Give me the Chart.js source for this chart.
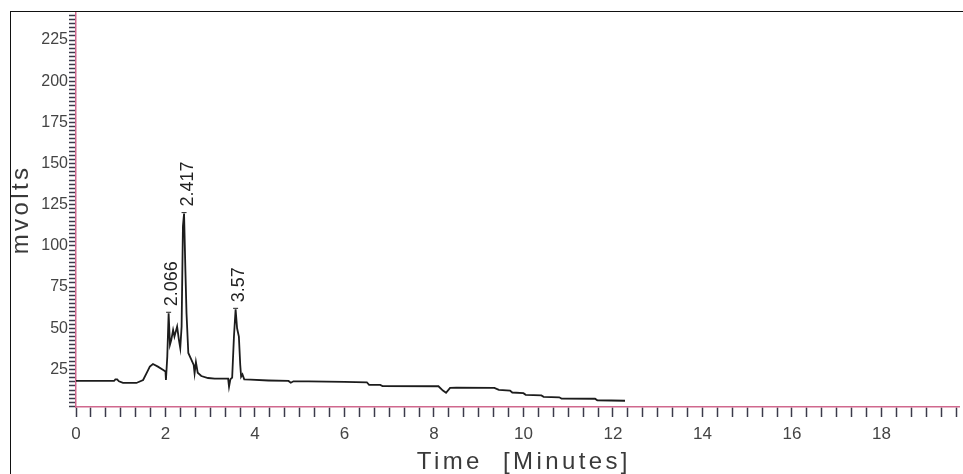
<!DOCTYPE html>
<html><head><meta charset="utf-8">
<script src="https://cdn.jsdelivr.net/npm/chart.js@4.4.1/dist/chart.umd.min.js"></script>
<style>
html,body{margin:0;padding:0;background:#fff;}
#wrap{position:relative;width:963px;height:474px;overflow:hidden;}
#frame{position:absolute;left:10px;top:11px;width:960px;height:470px;border-left:1.5px solid #111;border-top:1.5px solid #111;pointer-events:none;}
canvas{position:absolute;left:0;top:0;}
</style></head><body>
<div id="wrap"><canvas id="c" width="963" height="474"></canvas><div id="frame"></div></div>
<script>
// Chromatogram trace: retention time (minutes) and detector signal (mV)
const times = [0, 0.85, 0.88, 0.92, 0.96, 1.05, 1.35, 1.5, 1.6, 1.65, 1.72, 1.83, 1.95, 2.0, 2.01, 2.04, 2.07,
  2.10, 2.13, 2.17, 2.20, 2.26, 2.30, 2.33, 2.36, 2.39, 2.415, 2.445, 2.47, 2.51, 2.58, 2.63, 2.65, 2.68, 2.72,
  2.8, 2.95, 3.1, 3.3, 3.40, 3.42, 3.45, 3.49, 3.53, 3.567, 3.60, 3.64, 3.67, 3.69, 3.72, 3.76, 3.9, 4.3, 4.75,
  4.8, 4.86, 5.2, 6.0, 6.5, 6.55, 6.8, 6.85, 8.1, 8.2, 8.27, 8.36, 8.5, 9.35, 9.45, 9.7, 9.75, 10.0, 10.05,
  10.4, 10.45, 10.8, 10.85, 11.6, 11.65, 12.27];
const mvolts = [18, 18, 19, 19, 17.8, 16.8, 16.8, 18.6, 24, 26.7, 28.3, 26.7, 24.7, 23.7, 18.6, 32.8, 59.1,
  40, 43, 49, 45, 51, 43, 38, 51, 112, 119.6, 85, 59, 35, 30.8, 27.7, 22.7, 29.5, 23,
  21, 19.8, 19.4, 19.4, 19.4, 14.5, 19, 20, 45, 61.5, 50, 45, 28, 20.6, 22, 19, 18.8, 18.3, 18,
  16.9, 17.8, 17.8, 17.5, 17.2, 15.6, 15.6, 14.9, 14.8, 12.2, 10.8, 13.8, 14, 13.8, 12.6, 12.2, 11, 10.6, 9.6,
  9.2, 8.4, 8.1, 7.3, 7.2, 6.3, 6.0];
// Peak annotations
const peakTimes = [2.07, 2.415, 3.567];
const peakLabels = ['2.066', '2.417', '3.57'];
// Axis tick labels
const xLabelValues = [0, 2, 4, 6, 8, 10, 12, 14, 16, 18];
const yLabelValues = [25, 50, 75, 100, 125, 150, 175, 200, 225];
const xMinorStep = 1 / 3;
const yMinorStep = 2.5;
const xTitle = 'Time  [Minutes]';
const yTitle = 'mvolts';

const points = times.map((t, i) => ({ x: t, y: mvolts[i] }));

const annot = {
  id: 'annot',
  afterDraw(chart) {
    const ctx = chart.ctx, xs = chart.scales.x, ys = chart.scales.y, ca = chart.chartArea;
    ctx.save();
    ctx.fillStyle = '#3a3a3a';
    ctx.font = '24px "Liberation Sans", Arial, sans-serif';
    ctx.letterSpacing = '3.4px';
    ctx.textAlign = 'center';
    ctx.textBaseline = 'alphabetic';
    ctx.fillText(xTitle, (ca.left + ca.right) / 2 + 6, 469);
    ctx.save();
    ctx.translate(28, (ca.top + ca.bottom) / 2);
    ctx.rotate(-Math.PI / 2);
    ctx.fillText(yTitle, 0, 0);
    ctx.restore();

    ctx.letterSpacing = '0px';
    ctx.font = '18px "Liberation Sans", Arial, sans-serif';
    ctx.fillStyle = '#222';
    ctx.strokeStyle = '#222';
    ctx.lineWidth = 1;
    peakTimes.forEach((pt, i) => {
      let best = 0;
      times.forEach((t, j) => { if (Math.abs(t - pt) < Math.abs(times[best] - pt)) best = j; });
      const px = xs.getPixelForValue(times[best]);
      const py = ys.getPixelForValue(mvolts[best]);
      ctx.beginPath();
      ctx.moveTo(px - 2.5, py - 1); ctx.lineTo(px + 2.5, py - 1);
      ctx.stroke();
      ctx.save();
      ctx.translate(px + 3.5, py - 7);
      ctx.rotate(-Math.PI / 2);
      ctx.textAlign = 'left';
      ctx.textBaseline = 'middle';
      ctx.fillText(peakLabels[i], 0, 0);
      ctx.restore();
    });
    ctx.restore();
  }
};

const axisPink = '#d0688e';
const tickCol = '#3a3a4a';

new Chart(document.getElementById('c'), {
  type: 'line',
  data: { datasets: [{ data: points, borderColor: '#1c1c1c', borderWidth: 1.8, pointRadius: 0, tension: 0, fill: false }] },
  options: {
    responsive: false,
    animation: false,
    devicePixelRatio: 1,
    layout: { padding: { top: 12, right: 0, left: 0, bottom: 0 } },
    plugins: { legend: { display: false }, tooltip: { enabled: false } },
    scales: {
      x: {
        type: 'linear', min: 0, max: 19.75,
        afterBuildTicks(s) { const t = []; for (let i = 0; i * xMinorStep <= s.max + 1e-9; i++) t.push({ value: i * xMinorStep }); s.ticks = t; },
        afterFit(s) { s.height = 67; },
        grid: { drawOnChartArea: false, drawTicks: true, tickLength: 10, tickColor: tickCol, tickWidth: 1.5 },
        border: { display: true, color: axisPink, width: 1.5 },
        ticks: {
          autoSkip: false, maxRotation: 0, padding: 7, color: '#444',
          font: { family: '"Liberation Sans Narrow", "Arial Narrow", "Liberation Sans", sans-serif', size: 17 },
          callback: (v) => { const k = xLabelValues.find(l => Math.abs(l - v) < 1e-6); return k === undefined ? '' : String(k); }
        },
        title: { display: false }
      },
      y: {
        type: 'linear', min: 2.2, max: 242,
        afterBuildTicks(s) { const t = []; for (let i = 1; i * yMinorStep <= s.max; i++) t.push({ value: i * yMinorStep }); s.ticks = t; },
        afterFit(s) { s.width = 76; },
        grid: { drawOnChartArea: false, drawTicks: true, tickLength: 7, tickColor: tickCol, tickWidth: 1.5 },
        border: { display: true, color: axisPink, width: 1.5 },
        ticks: {
          autoSkip: false, padding: 1, color: '#444',
          font: { family: '"Liberation Sans Narrow", "Arial Narrow", "Liberation Sans", sans-serif', size: 16 },
          callback: (v) => { const k = yLabelValues.find(l => Math.abs(l - v) < 1e-6); return k === undefined ? '' : String(k); }
        },
        title: { display: false }
      }
    }
  },
  plugins: [annot]
});
</script>
</body></html>
